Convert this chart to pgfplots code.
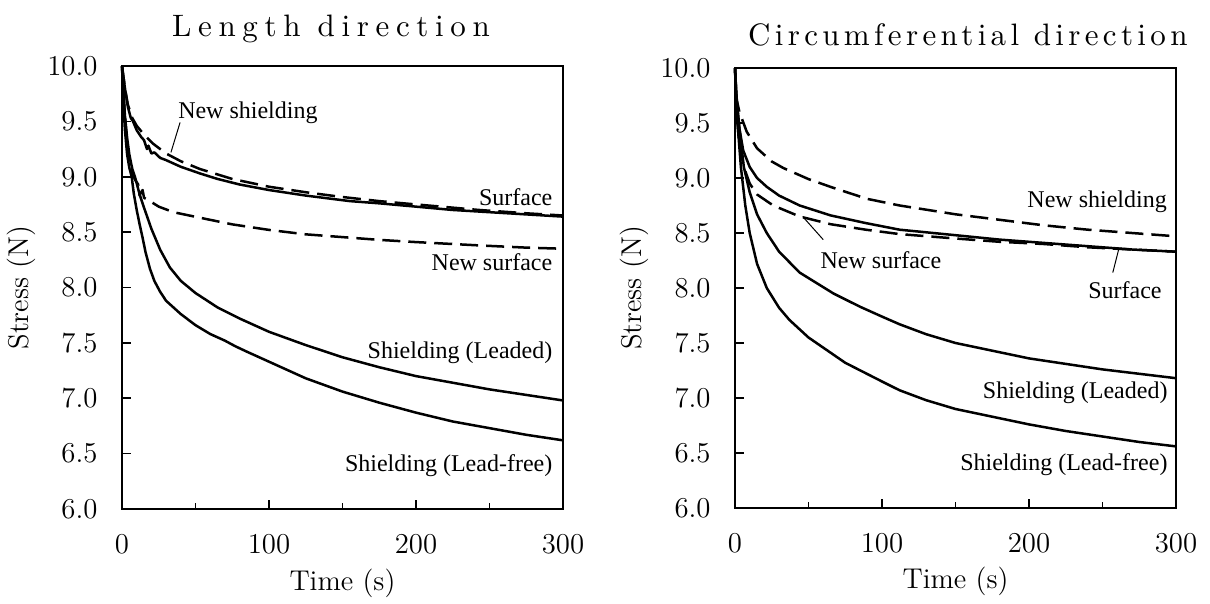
\documentclass[border=0pt]{standalone}
\usepackage{fontspec}
\usepackage{pgfplots}
\pgfplotsset{compat=1.18}
\newfontfamily\tnr{Liberation Serif}
\newfontfamily\ttlA[LetterSpace=21.5]{lmroman10-regular.otf}
\newfontfamily\ttlB[LetterSpace=14]{lmroman10-regular.otf}

\tikzset{
 ann/.style={font=\tnr\fontsize{12}{14}\selectfont,inner sep=0pt},
 lead/.style={black,line width=0.5pt},
}
\pgfplotsset{
 myax/.style={
  scale only axis, width=220.5pt,
  xmin=0,xmax=300,ymin=6,ymax=10,
  xtick={0,100,200,300}, minor xtick={50,150,250},
  ytick={6,6.5,7,7.5,8,8.5,9,9.5,10},
  tick align=inside, xtick pos=bottom, ytick pos=left,
  major tick length=4.5pt, minor tick length=3pt,
  axis line style={line width=0.8pt},
  every tick/.style={line width=0.8pt,black},
  y tick label style={/pgf/number format/fixed,/pgf/number format/fixed zerofill,/pgf/number format/precision=1},
  tick label style={font=\fontsize{14.4}{17}\selectfont},
  yticklabel style={xshift=-8.7pt},
  xticklabel style={yshift=-9.5pt},
  every axis y label/.style={at={(axis description cs:-0.229,0.5)},rotate=90,anchor=center,font=\fontsize{14.3}{17}\selectfont},
  every axis x label/.style={at={(axis description cs:0.5,-0.167)},anchor=center,font=\fontsize{14.3}{17}\selectfont},
  xlabel={Time (s)}, ylabel={Stress (N)},
  clip=false,
 },
 sol/.style={black,line width=1.25pt,line join=round},
 das/.style={black,line width=1.25pt,line join=round,dash pattern=on 9pt off 4pt},
}

\begin{document}
\begin{tikzpicture}
\useasboundingbox (0,0) rectangle (605pt,302pt);
% ---------------- Length direction ----------------
\begin{axis}[myax, height=221.5pt, at={(61pt,47.5pt)}, anchor=south west,
  title={Length direction},
  title style={at={(axis description cs:0.474,1.04)},anchor=base,
    font=\ttlA\fontsize{15.5}{18}\selectfont}]
% Surface
\addplot[sol] coordinates {(0,10) (1,9.9) (2,9.8) (4,9.63) (6,9.53) (7.5,9.5) (10,9.42) (13,9.36) (15,9.33) (17,9.25) (18,9.28) (20,9.21) (22,9.22) (26,9.17) (30,9.15) (40,9.09) (53,9.03) (65,8.98) (80,8.93) (100,8.88) (125,8.83) (155,8.78) (175,8.76) (200,8.73) (225,8.7) (250,8.68) (275,8.66) (300,8.64)};
% New shielding
\addplot[das] coordinates {(0,10) (2,9.8) (4,9.65) (7,9.53) (10,9.46) (15,9.38) (21,9.3) (30,9.21) (40,9.14) (53,9.07) (75,8.98) (100,8.91) (125,8.86) (148,8.82) (175,8.78) (200,8.75) (243,8.7) (275,8.67) (300,8.65)};
% New surface
\addplot[das] coordinates {(0,10) (2,9.55) (4,9.2) (6.6,9.04) (9,8.97) (11,8.93) (12,8.83) (13,8.86) (14,8.88) (15,8.81) (19,8.78) (25,8.73) (35,8.68) (53,8.63) (75,8.57) (100,8.52) (125,8.48) (155,8.45) (175,8.43) (200,8.41) (243,8.38) (275,8.36) (300,8.35)};
% Shielding (Leaded)
\addplot[sol] coordinates {(0,10) (1,9.75) (2,9.55) (3.5,9.35) (5,9.2) (7,9.07) (8.8,9.0) (12,8.84) (15,8.72) (20,8.53) (26,8.34) (32.6,8.18) (40,8.06) (50,7.95) (65,7.82) (80,7.72) (100,7.6) (125,7.48) (150,7.37) (175,7.28) (200,7.2) (225,7.14) (250,7.08) (275,7.03) (300,6.98)};
% Shielding (Lead-free)
\addplot[sol] coordinates {(0,10) (1,9.65) (2,9.42) (3.5,9.2) (5,9.08) (6.6,9.0) (8,8.85) (10,8.7) (12,8.57) (14,8.45) (16,8.32) (19,8.17) (22,8.06) (26,7.96) (30,7.88) (40,7.76) (50,7.66) (60,7.58) (70,7.52) (77,7.47) (85,7.42) (100,7.33) (125,7.18) (150,7.06) (175,6.96) (200,6.87) (225,6.79) (250,6.73) (275,6.67) (300,6.62)};
\node[ann,anchor=west] at (axis cs:38,9.58) {New shielding};
\draw[lead] (axis cs:39.5,9.49) -- (axis cs:33.3,9.22);
\node[ann,anchor=east] at (axis cs:293,8.82) {Surface};
\node[ann,anchor=east] at (axis cs:293,8.23) {New surface};
\node[ann,anchor=east] at (axis cs:293,7.41) {Shielding (Leaded)};
\node[ann,anchor=east] at (axis cs:293,6.39) {Shielding (Lead-free)};
\end{axis}
% ---------------- Circumferential direction ----------------
\begin{axis}[myax, height=220pt, at={(367.5pt,48pt)}, anchor=south west,
  title={Circumferential direction},
  title style={at={(axis description cs:0.528,1.024)},anchor=base,
    font=\ttlB\fontsize{15.5}{18}\selectfont}]
% New shielding
\addplot[das] coordinates {(0,10) (1,9.72) (3,9.6) (8,9.42) (15,9.27) (25,9.15) (33,9.09) (50,8.99) (67,8.91) (90,8.81) (112,8.75) (150,8.67) (180,8.62) (210,8.57) (240,8.53) (270,8.5) (300,8.47)};
% Surface
\addplot[sol] coordinates {(0,10) (1,9.7) (3,9.45) (5.6,9.25) (10,9.1) (15,9.0) (21.6,8.92) (30,8.84) (44,8.75) (65,8.66) (89,8.59) (112,8.53) (150,8.48) (180,8.44) (210,8.41) (240,8.38) (270,8.35) (300,8.33)};
% New surface
\addplot[das] coordinates {(0,10) (1,9.6) (3,9.3) (6,9.1) (10,8.95) (15,8.85) (26,8.75) (44,8.65) (65,8.58) (89,8.53) (112,8.49) (150,8.45) (180,8.42) (210,8.4) (240,8.37) (270,8.35) (300,8.33)};
% Shielding (Leaded)
\addplot[sol] coordinates {(0,10) (1,9.75) (3,9.45) (6,9.1) (10,8.87) (15,8.67) (21.6,8.5) (30,8.33) (44,8.14) (67,7.95) (85,7.83) (100,7.74) (112,7.67) (130,7.58) (150,7.5) (175,7.43) (200,7.36) (225,7.31) (250,7.26) (275,7.22) (300,7.18)};
% Shielding (Lead-free)
\addplot[sol] coordinates {(0,10) (1,9.7) (2,9.45) (4,9.1) (7,8.75) (10,8.5) (15,8.22) (21.6,8.0) (30,7.82) (37,7.71) (50,7.55) (75,7.32) (100,7.15) (112,7.07) (130,6.98) (150,6.9) (175,6.83) (200,6.76) (225,6.7) (250,6.65) (275,6.6) (300,6.56)};
\node[ann,anchor=east] at (axis cs:294,8.78) {New shielding};
\node[ann,anchor=east] at (axis cs:290.5,7.98) {Surface};
\draw[lead] (axis cs:261,8.35) -- (axis cs:257,8.14);
\node[ann,anchor=east] at (axis cs:294.5,7.05) {Shielding (Leaded)};
\node[ann,anchor=east] at (axis cs:294.5,6.39) {Shielding (Lead-free)};
\node[ann,anchor=west] at (axis cs:58,8.25) {New surface};
\draw[lead] (axis cs:46,8.65) -- (axis cs:60,8.44);
\end{axis}
\end{tikzpicture}
\end{document}
